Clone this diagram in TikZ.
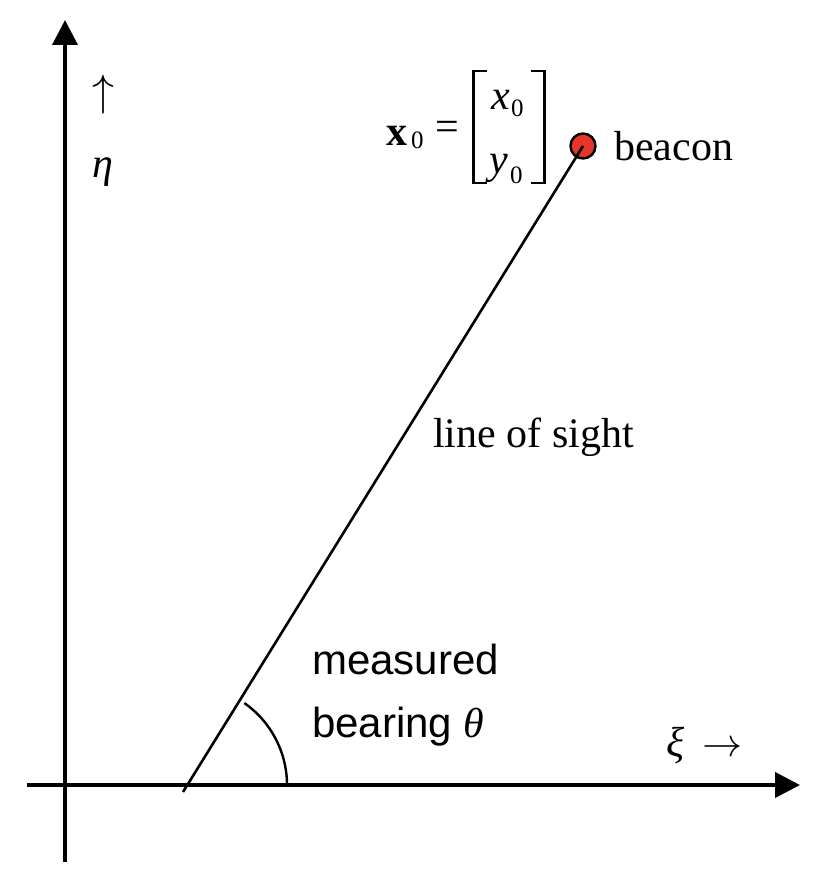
\documentclass[tikz,border=0pt]{standalone}
\usepackage{graphicx}
\usepackage{fontspec}
\setmainfont{Liberation Serif}
\newfontfamily\arialfont{Liberation Sans}
\usetikzlibrary{arrows.meta}
\definecolor{beaconred}{HTML}{E8352A}
\begin{document}
\begin{tikzpicture}[x=1pt,y=1pt,
  axis/.style={line width=4pt, -{Triangle[length=25pt,width=25pt]}},
  sight/.style={line width=2.6pt},
  anglearc/.style={line width=2.4pt},
  bracketline/.style={line width=2.6pt},
  lbl/.style={inner sep=0pt, anchor=base west, font=\fontsize{42}{50}\selectfont},
  sanslbl/.style={inner sep=0pt, anchor=base west, font=\fontsize{42}{50}\selectfont\arialfont},
  sublbl/.style={inner sep=0pt, anchor=base west, font=\fontsize{25}{30}\selectfont}]
\useasboundingbox (0,0) rectangle (822,-888);
% axes
\coordinate (vbot) at (65,-862);
\coordinate (vtop) at (65,-20);
\coordinate (hleft) at (27,-785);
\coordinate (hright) at (800,-785);
\draw[axis] (vbot) -- (vtop);
\draw[axis] (hleft) -- (hright);
% beacon and line of sight
\node[circle, draw, line width=2.4pt, fill=beaconred, minimum size=25pt, inner sep=0pt] (beacon) at (583,-146) {};
\coordinate (sightfoot) at (183,-792);
\draw[sight] (sightfoot) -- (beacon.center);
% angle arc
\coordinate (arcstart) at (287,-785);
\draw[anglearc] (arcstart) arc[start angle=0, end angle=55, radius=100pt];
% axis labels
\node[lbl] (uparrow) at (92,-105.5) {\resizebox*{!}{39pt}{$\uparrow$}};
\node[lbl] (eta) at (92,-177) {\itshape η};
\node[lbl] (xi) at (666,-756) {\itshape ξ};
\node[lbl] (xiarrow) at (702,-756) {\resizebox{40pt}{!}{$\rightarrow$}};
% texts
\node[lbl] (beaconlbl) at (614,-160) {beacon};
\node[lbl] (sightlbl) at (433,-447) {line of sight};
\node[sanslbl] (measured) at (312,-674) {measured};
\node[sanslbl] (bearing) at (312,-737) {bearing {\rmfamily\itshape θ}};
% x0 = [x0; y0]
\node[lbl] (boldx) at (386,-145) {\bfseries x};
\node[sublbl] (boldxsub) at (411,-148) {0};
\node[lbl] (equals) at (435,-140) {=};
\node[lbl] (entryx) at (491,-110) {\itshape x};
\node[sublbl] (entryxsub) at (511,-117) {0};
\node[lbl] (entryy) at (489,-173) {\itshape y};
\node[sublbl] (entryysub) at (510,-183) {0};
\coordinate (lbt) at (487,-71);
\coordinate (lbtl) at (473.5,-71);
\coordinate (lbbl) at (473.5,-183);
\coordinate (lbb) at (487,-183);
\coordinate (rbt) at (531,-71);
\coordinate (rbtr) at (544.5,-71);
\coordinate (rbbr) at (544.5,-183);
\coordinate (rbb) at (531,-183);
\draw[bracketline] (lbt) -- (lbtl) -- (lbbl) -- (lbb);
\draw[bracketline] (rbt) -- (rbtr) -- (rbbr) -- (rbb);
\end{tikzpicture}
\end{document}
